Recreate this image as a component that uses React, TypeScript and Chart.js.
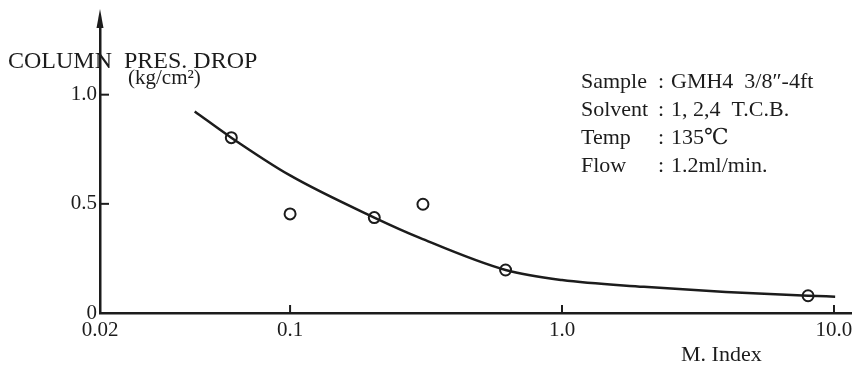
import React, { useEffect, useRef } from "react";
import { Chart, registerables } from "chart.js";

Chart.register(...registerables);

// Measured points (M. Index vs column pressure drop)
const measuredX = [0.0608, 0.1, 0.204, 0.308, 0.62, 8.03];
const measuredY = [0.803, 0.454, 0.437, 0.498, 0.197, 0.079];

// Hand-drawn fitting curve
const curveX = [0.0446, 0.0608, 0.1, 0.204, 0.3, 0.62, 1.0, 2.0, 4.0, 8.03, 10.1];
const curveY = [0.923, 0.803, 0.63, 0.437, 0.344, 0.197, 0.151, 0.12, 0.096, 0.079, 0.075];

const xTickValues = [0.02, 0.1, 1, 10];
const xTickLabels = ["0.02", "0.1", "1.0", "10.0"];
const yTickValues = [0, 0.5, 1.0];
const yTickLabels = ["0", "0.5", "1.0"];

const yAxisTitle = "COLUMN  PRES. DROP";
const yAxisUnit = "(kg/cm\u00B2)";
const xAxisTitle = "M. Index";
const infoLabels = ["Sample", "Solvent", "Temp", "Flow"];
const infoValues = ["GMH4  3/8\u2033-4ft", "1, 2,4  T.C.B.", "135\u2103", "1.2ml/min."];

const INK = "#1c1c1c";
const FONT = "'Liberation Serif', 'DejaVu Serif', serif";

const decorPlugin = {
  id: "decor",
  afterDraw(chart: any) {
    const ctx = chart.ctx as CanvasRenderingContext2D;
    const xs = chart.scales.x;
    const ys = chart.scales.y;
    const area = chart.chartArea;
    ctx.save();
    ctx.strokeStyle = INK;
    ctx.fillStyle = INK;
    ctx.lineWidth = 2;
    // inward tick marks
    yTickValues.forEach((v) => {
      if (v === 0) return;
      const py = ys.getPixelForValue(v);
      ctx.beginPath();
      ctx.moveTo(area.left, py);
      ctx.lineTo(area.left + 9, py);
      ctx.stroke();
    });
    xTickValues.forEach((v, i) => {
      if (i === 0) return;
      const px = xs.getPixelForValue(v);
      ctx.beginPath();
      ctx.moveTo(px, area.bottom);
      ctx.lineTo(px, area.bottom - 8);
      ctx.stroke();
    });
    // arrow head on the y axis
    ctx.beginPath();
    ctx.moveTo(area.left, area.top - 18);
    ctx.lineTo(area.left - 3.5, area.top + 1);
    ctx.lineTo(area.left + 3.5, area.top + 1);
    ctx.closePath();
    ctx.fill();

    // axis titles
    ctx.textBaseline = "alphabetic";
    ctx.textAlign = "left";
    ctx.font = `24px ${FONT}`;
    ctx.fillText(yAxisTitle, 8, 68);
    ctx.font = `21px ${FONT}`;
    ctx.fillText(yAxisUnit, 128, 84);
    ctx.font = `22px ${FONT}`;
    ctx.fillText(xAxisTitle, 681, 361);

    // information block
    ctx.font = `22px ${FONT}`;
    infoLabels.forEach((lab, i) => {
      const by = 88 + i * 28;
      ctx.fillText(lab, 581, by);
      ctx.fillText(":", 658, by);
      ctx.fillText(infoValues[i], 671, by);
    });
    ctx.restore();
  },
};

export default function App() {
  const ref = useRef<HTMLCanvasElement | null>(null);
  useEffect(() => {
    if (!ref.current) return;
    const chart = new Chart(ref.current, {
      type: "scatter",
      data: {
        datasets: [
          {
            label: "curve",
            data: curveX.map((x, i) => ({ x, y: curveY[i] })),
            showLine: true,
            borderColor: INK,
            borderWidth: 2.5,
            pointRadius: 0,
            cubicInterpolationMode: "monotone",
            fill: false,
          },
          {
            label: "measured",
            data: measuredX.map((x, i) => ({ x, y: measuredY[i] })),
            showLine: false,
            pointRadius: 5.5,
            pointBorderWidth: 2,
            pointBorderColor: INK,
            pointBackgroundColor: "#ffffff",
          },
        ],
      },
      options: {
        responsive: false,
        maintainAspectRatio: false,
        animation: false,
        layout: { padding: { top: 27, right: 4, left: 0, bottom: 0 } },
        plugins: {
          legend: { display: false },
          tooltip: { enabled: false },
        },
        scales: {
          x: {
            type: "logarithmic",
            min: 0.02,
            max: 11.6,
            grid: { display: false, drawTicks: false },
            border: { display: true, color: INK, width: 2.5 },
            afterBuildTicks: (scale: any) => {
              scale.ticks = xTickValues.map((v) => ({ value: v }));
            },
            afterFit: (scale: any) => {
              scale.height = 54;
            },
            ticks: {
              autoSkip: false,
              maxRotation: 0,
              padding: 5,
              color: INK,
              font: { family: FONT, size: 21 },
              callback: (_v: any, i: number) => xTickLabels[i],
            },
          },
          y: {
            type: "linear",
            min: 0,
            max: 1.31,
            grid: { display: false, drawTicks: false },
            border: { display: true, color: INK, width: 2.5 },
            afterBuildTicks: (scale: any) => {
              scale.ticks = yTickValues.map((v) => ({ value: v }));
            },
            afterFit: (scale: any) => {
              scale.width = 100;
            },
            ticks: {
              padding: 3,
              color: INK,
              font: { family: FONT, size: 21 },
              callback: (_v: any, i: number) => yTickLabels[i],
            },
          },
        },
      },
      plugins: [decorPlugin],
    } as any);
    return () => chart.destroy();
  }, []);
  return (
    <div style={{ position: "fixed", left: 0, top: 0, width: 859, height: 367, background: "#fff" }}>
      <canvas ref={ref} width={859} height={367} />
    </div>
  );
}
